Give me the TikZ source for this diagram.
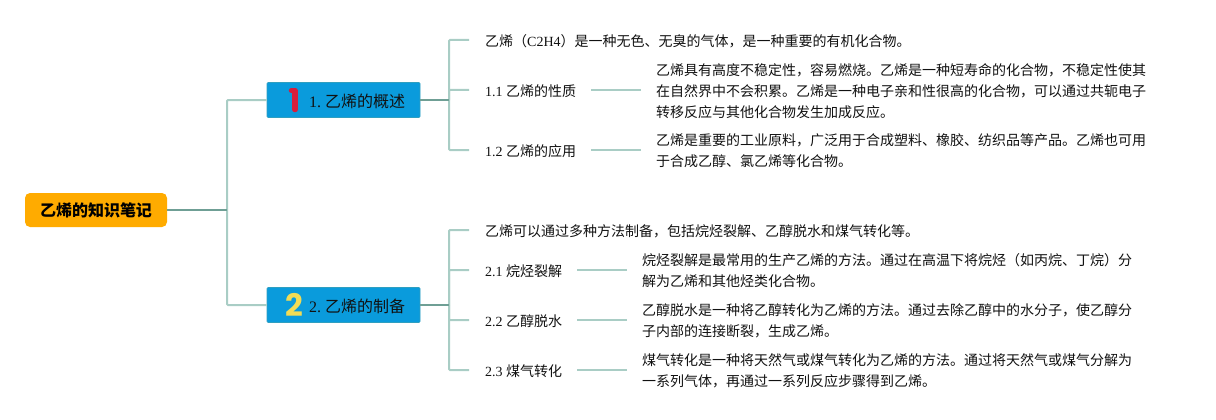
\documentclass[tikz,border=0pt]{standalone}
\usepackage{fontspec}
\setmainfont{Liberation Serif}
\newfontfamily\cjk{Noto Sans CJK SC}
\newfontfamily\badgefont{Poppins}[BoldFont={Poppins Bold}]
\newcommand{\zh}[1]{{\cjk #1}}
\definecolor{linelight}{HTML}{A9CDC5}
\definecolor{linedark}{HTML}{6F9F95}
\definecolor{rootfill}{HTML}{FFAB00}
\definecolor{topicfill}{HTML}{0A9BDC}
\definecolor{topicedge}{HTML}{2F9FC0}
\definecolor{txt}{HTML}{111111}
\tikzset{
  x=1pt,y=-1pt,
  rootnode/.style={fill=rootfill,rounded corners=5pt,minimum width=142pt,minimum height=34pt,inner sep=0pt,text=black,font=\fontsize{16}{18}\selectfont\cjk\bfseries},
  topicnode/.style={fill=topicfill,draw=topicedge,line width=.6pt,rounded corners=1pt,minimum width=153pt,minimum height=35pt,inner sep=0pt},
  toptext/.style={inner sep=0pt,anchor=west,text=txt,font=\fontsize{16}{18}\selectfont},
  subnode/.style={inner sep=0pt,anchor=west,text=txt,font=\fontsize{14}{21}\selectfont},
  bodynode/.style={inner sep=0pt,anchor=west,align=left,text=txt,font=\fontsize{14}{21}\selectfont},
  lightline/.style={draw=linelight,line width=2pt,rounded corners=1pt},
  darkline/.style={draw=linedark,line width=2pt},
}
\begin{document}
\begin{tikzpicture}
\useasboundingbox (0,0) rectangle (1216,420);
% main nodes
\node[rootnode] (root) at (96,210) {乙烯的知识笔记};
\node[topicnode] (t1) at (343.5,100) {};
\node[topicnode] (t2) at (343.5,305) {};
\node[toptext] (t1label) at (309,101) {1.\hspace{4pt}\zh{乙烯的概述}};
\node[toptext] (t2label) at (309,306) {2.\hspace{4pt}\zh{乙烯的制备}};
% text, topic 1
\node[bodynode] (a0) at (485,41) {\zh{乙烯（}C2H4\zh{）是一种无色、无臭的气体，是一种重要的有机化合物。}};
\node[subnode] (a1) at (485,91) {1.1 \zh{乙烯的性质}};
\node[subnode] (a2) at (485,151) {1.2 \zh{乙烯的应用}};
\node[bodynode] (b1) at (656,91) {\cjk 乙烯具有高度不稳定性，容易燃烧。乙烯是一种短寿命的化合物，不稳定性使其\\\cjk 在自然界中不会积累。乙烯是一种电子亲和性很高的化合物，可以通过共轭电子\\\cjk 转移反应与其他化合物发生加成反应。};
\node[bodynode] (b2) at (656,151) {\cjk 乙烯是重要的工业原料，广泛用于合成塑料、橡胶、纺织品等产品。乙烯也可用\\\cjk 于合成乙醇、氯乙烯等化合物。};
% text, topic 2
\node[bodynode] (c0) at (485,231) {\cjk 乙烯可以通过多种方法制备，包括烷烃裂解、乙醇脱水和煤气转化等。};
\node[subnode] (c1) at (485,271) {2.1 \zh{烷烃裂解}};
\node[subnode] (c2) at (485,321) {2.2 \zh{乙醇脱水}};
\node[subnode] (c3) at (485,371) {2.3 \zh{煤气转化}};
\node[bodynode] (d1) at (642,271) {\cjk 烷烃裂解是最常用的生产乙烯的方法。通过在高温下将烷烃（如丙烷、丁烷）分\\\cjk 解为乙烯和其他烃类化合物。};
\node[bodynode] (d2) at (642,321) {\cjk 乙醇脱水是一种将乙醇转化为乙烯的方法。通过去除乙醇中的水分子，使乙醇分\\\cjk 子内部的连接断裂，生成乙烯。};
\node[bodynode] (d3) at (642,371) {\cjk 煤气转化是一种将天然气或煤气转化为乙烯的方法。通过将天然气或煤气分解为\\\cjk 一系列气体，再通过一系列反应步骤得到乙烯。};
% junctions
\coordinate (j0) at (227,210);
\coordinate (j1) at (449,100);
\coordinate (j2) at (449,305);
% connectors
\draw[lightline] (t1.west) -| (j0) |- (t2.west);
\draw[darkline] (root.east) -- (j0);
\path[lightline] (j1) |- ([xshift=-16pt,yshift=1pt]a0.west);
\path[lightline] (j1) |- ([xshift=-16pt,yshift=1pt]a1.west);
\path[lightline] (j1) |- ([xshift=-16pt,yshift=1pt]a2.west);
\draw[darkline] (t1.east) -- (j1);
\path[lightline] (j2) |- ([xshift=-16pt,yshift=1pt]c0.west);
\path[lightline] (j2) |- ([xshift=-16pt,yshift=1pt]c1.west);
\path[lightline] (j2) |- ([xshift=-16pt,yshift=1pt]c2.west);
\path[lightline] (j2) |- ([xshift=-16pt,yshift=1pt]c3.west);
\draw[darkline] (t2.east) -- (j2);
\draw[lightline] ([xshift=15pt,yshift=1pt]a1.east) -- ([xshift=-15pt,yshift=1pt]b1.west);
\draw[lightline] ([xshift=15pt,yshift=1pt]a2.east) -- ([xshift=-15pt,yshift=1pt]b2.west);
\draw[lightline] ([xshift=15pt,yshift=1pt]c1.east) -- ([xshift=-15pt,yshift=1pt]d1.west);
\draw[lightline] ([xshift=15pt,yshift=1pt]c2.east) -- ([xshift=-15pt,yshift=1pt]d2.west);
\draw[lightline] ([xshift=15pt,yshift=1pt]c3.east) -- ([xshift=-15pt,yshift=1pt]d3.west);
% badges
\draw[draw={rgb,255:red,214;green,30;blue,60},line width=5.5pt,line cap=round,line join=round] (291.5,90.5) -- (295,90.5) -- (295,109.5);
\node[inner sep=0pt,text={rgb,255:red,242;green,220;blue,85},font=\fontsize{31}{31}\selectfont\badgefont\bfseries] (badge2) at (294,305) {2};
\end{tikzpicture}
\end{document}
